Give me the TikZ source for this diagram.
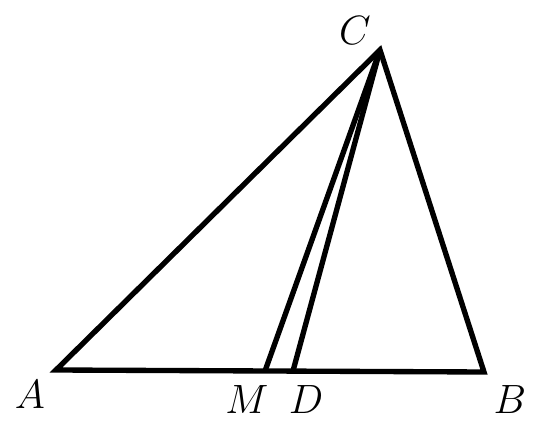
\documentclass[tikz,border=0pt]{standalone}
\usepackage{amsmath,amssymb}
\usepackage{tikz}
\usetikzlibrary{positioning}

\begin{document}
\begin{tikzpicture}[
  side/.style={line width=3.8pt, line join=miter},
  vlabel/.style={inner sep=0pt, font=\Huge, scale=1.17}
]
\useasboundingbox (0,0) rectangle (13.325,10.525);

\coordinate (A) at (1.40,1.275);
\coordinate (B) at (12.10,1.225);
\coordinate (C) at (9.50,9.275);
\coordinate (M) at (6.625,1.25);
\coordinate (D) at (7.325,1.25);

\node[vlabel] (labC) at (8.875,9.75) {$C$};
\node[vlabel] (labA) at (0.75,0.65) {$A$};
\node[vlabel] (labM) at (6.175,0.525) {$M$};
\node[vlabel] (labD) at (7.65,0.525) {$D$};
\node[vlabel] (labB) at (12.75,0.525) {$B$};

\draw[side] (A) -- (B) -- (C) -- cycle;
\draw[side] (C) -- (M);
\draw[side] (C) -- (D);
\end{tikzpicture}
\end{document}
